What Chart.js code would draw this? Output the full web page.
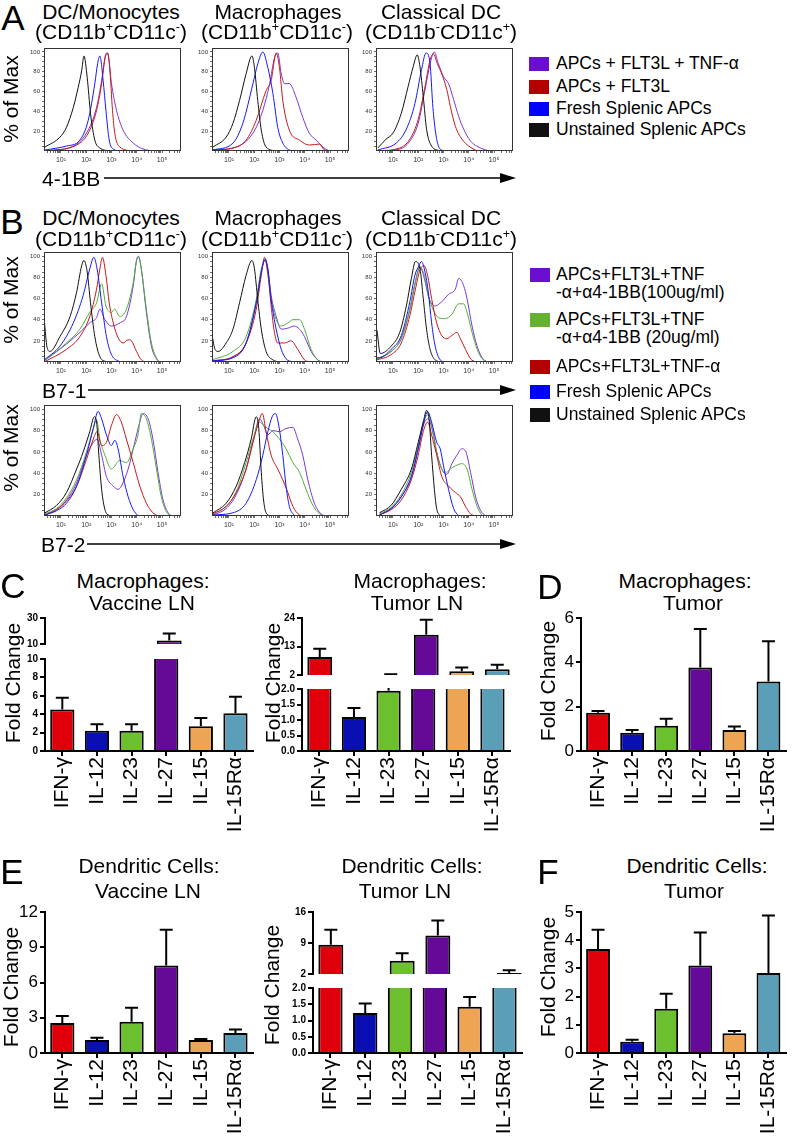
<!DOCTYPE html>
<html>
<head>
<meta charset="utf-8">
<script src="https://cdn.jsdelivr.net/npm/chart.js@4.4.1/dist/chart.umd.min.js"></script>
<style>
  body { margin: 0; background: #fff; }
  #fig { position: relative; width: 793px; height: 1139px; overflow: hidden; background: #fff;
         font-family: "Liberation Sans", Arial, sans-serif; color: #000; }
  #fig canvas { position: absolute; }
  .tx { position: absolute; white-space: nowrap; line-height: 1; }
  .tx sup { font-size: 0.6em; vertical-align: 0.6em; line-height: 0; }
  .sq { position: absolute; width: 20px; height: 14px; }
  svg { position: absolute; left: 0; top: 0; }
</style>
</head>
<body>
<div id="fig"></div>
<script>
const FONT = '"Liberation Sans", Arial, sans-serif';
Chart.defaults.font.family = FONT;

// ---- histogram data: [log10 intensity, % of max] ----
const decadeLabels = ['10⁰', '10¹', '10²', '10³', '10⁴', '10⁵'];

// A: 4-1BB
const a1Black = [[0.37,4],[0.96,14],[1.22,24],[1.49,44],[1.68,64],[1.82,81],[1.91,96],[2.04,74],[2.17,38],[2.34,11],[2.54,3],[2.93,0]];
const a1Blue = [[0.37,1],[1.22,5],[1.75,11],[2.08,31],[2.34,68],[2.45,88],[2.54,96],[2.67,71],[2.78,41],[2.91,11],[3.07,2],[3.33,0]];
const a1Red = [[0.37,0],[1.62,6],[2.08,18],[2.41,41],[2.61,68],[2.74,93],[2.83,99],[2.93,84],[3.04,41],[3.13,18],[3.33,4],[3.86,0]];
const a1Purple = [[0.37,0],[1.49,5],[2.01,18],[2.41,44],[2.61,71],[2.78,98],[2.85,99],[3.0,68],[3.2,41],[3.46,21],[3.86,8],[4.25,2],[4.64,0]];

const a2Black = [[0.37,4],[0.89,14],[1.16,28],[1.42,51],[1.68,78],[1.91,96],[2.01,84],[2.14,51],[2.28,21],[2.47,4],[2.87,0]];
const a2Blue = [[0.37,1],[1.16,8],[1.55,28],[1.95,68],[2.14,88],[2.34,100],[2.54,84],[2.74,58],[2.93,24],[3.13,8],[3.39,1],[3.6,0]];
const a2Red = [[0.37,1],[1.16,3],[1.68,11],[2.08,31],[2.47,61],[2.67,71],[2.87,99],[3.0,84],[3.13,51],[3.39,21],[3.79,11],[4.18,6],[4.58,7],[4.78,1],[5.0,0]];
const a2Purple = [[0.37,1],[1.16,3],[1.95,18],[2.34,41],[2.61,68],[2.8,94],[2.93,99],[3.07,78],[3.2,68],[3.39,68],[3.66,54],[3.92,34],[4.18,18],[4.45,11],[4.71,4],[4.97,0]];

const a3Black = [[0.4,3],[0.73,12],[1.0,18],[1.33,38],[1.6,65],[1.8,85],[1.96,97],[2.07,85],[2.2,55],[2.33,22],[2.53,5],[2.87,0]];
const a3Blue = [[0.4,1],[1.13,8],[1.53,22],[1.87,48],[2.13,82],[2.31,99],[2.47,88],[2.57,48],[2.67,22],[2.8,5],[3.0,0]];
const a3Red = [[0.4,0],[1.27,3],[1.67,12],[2.0,32],[2.27,65],[2.47,92],[2.6,98],[2.76,88],[2.93,78],[3.13,62],[3.27,45],[3.47,25],[3.73,12],[4.0,5],[4.33,0]];
const a3Purple = [[0.4,0],[1.27,2],[1.67,10],[2.0,28],[2.27,62],[2.47,88],[2.63,100],[2.8,88],[3.0,75],[3.2,68],[3.4,52],[3.6,35],[3.8,22],[4.07,10],[4.47,3],[4.8,0]];

// B: B7-1
const b1Black = [[0.34,40],[0.45,14],[0.57,10],[0.96,24],[1.36,43],[1.62,66],[1.82,91],[1.91,96],[2.04,85],[2.17,56],[2.34,24],[2.54,5],[2.8,0]];
const b1Blue = [[0.34,2],[0.96,15],[1.49,37],[1.88,63],[2.14,88],[2.3,99],[2.43,88],[2.61,56],[2.8,24],[3.0,7],[3.33,0]];
const b1Red = [[0.34,0],[1.22,12],[1.75,24],[2.14,43],[2.41,69],[2.54,88],[2.64,99],[2.78,82],[2.91,56],[3.07,37],[3.26,23],[3.46,18],[3.66,21],[3.79,20],[3.99,10],[4.18,2],[4.38,0]];
const b1Green = [[0.34,1],[1.22,18],[1.75,31],[2.14,47],[2.41,56],[2.61,74],[2.78,53],[3.0,47],[3.13,50],[3.33,43],[3.59,50],[3.86,75],[3.99,96],[4.07,99],[4.18,88],[4.38,50],[4.58,18],[4.78,4],[4.91,0]];
const b1Purple = [[0.34,1],[1.22,17],[1.75,28],[2.14,37],[2.41,42],[2.54,50],[2.74,40],[3.0,34],[3.33,37],[3.59,43],[3.86,72],[3.99,96],[4.07,100],[4.18,88],[4.38,47],[4.58,15],[4.78,3],[4.91,0]];

const b2Black = [[0.34,24],[0.45,12],[0.57,10],[0.89,18],[1.16,31],[1.42,56],[1.68,82],[1.91,96],[2.01,88],[2.14,59],[2.28,31],[2.47,10],[2.74,2],[3.0,0]];
const b2Blue = [[0.34,1],[1.16,4],[1.68,18],[2.08,56],[2.28,85],[2.43,97],[2.54,88],[2.67,59],[2.87,31],[3.07,12],[3.26,3],[3.53,0]];
const b2Red = [[0.34,1],[1.16,5],[1.68,18],[2.08,50],[2.28,82],[2.41,99],[2.54,85],[2.67,53],[2.8,28],[2.93,18],[3.2,18],[3.46,20],[3.72,12],[3.99,2],[4.18,0]];
const b2Green = [[0.34,2],[1.16,10],[1.68,24],[2.08,59],[2.28,88],[2.43,96],[2.54,82],[2.67,59],[2.87,40],[3.07,34],[3.33,37],[3.53,40],[3.79,40],[3.99,31],[4.25,12],[4.51,2],[4.71,0]];
const b2Purple = [[0.34,1],[1.16,5],[1.68,18],[2.08,56],[2.28,85],[2.43,97],[2.54,88],[2.67,63],[2.87,43],[3.07,31],[3.33,32],[3.59,34],[3.79,31],[3.99,24],[4.25,10],[4.51,2],[4.71,0]];

const b3Black = [[0.37,30],[0.5,8],[0.93,15],[1.27,28],[1.53,53],[1.73,79],[1.89,95],[2.07,88],[2.2,60],[2.33,31],[2.47,12],[2.67,2],[2.93,0]];
const b3Blue = [[0.37,4],[0.47,4],[0.93,12],[1.33,25],[1.67,57],[1.87,82],[2.03,91],[2.13,95],[2.27,85],[2.4,66],[2.53,37],[2.67,15],[2.87,2],[3.07,0]];
const b3Red = [[0.37,2],[0.93,7],[1.33,18],[1.67,44],[1.89,69],[2.07,87],[2.24,91],[2.37,82],[2.53,60],[2.73,37],[2.93,25],[3.13,22],[3.33,25],[3.53,28],[3.67,22],[3.87,12],[4.07,3],[4.27,0]];
const b3Green = [[0.37,3],[0.93,10],[1.33,22],[1.67,50],[1.89,76],[2.07,90],[2.24,82],[2.4,63],[2.6,49],[2.8,42],[3.07,41],[3.33,45],[3.6,55],[3.8,55],[3.93,47],[4.13,28],[4.33,12],[4.53,3],[4.73,0]];
const b3Purple = [[0.37,3],[0.93,10],[1.33,22],[1.67,50],[1.89,76],[2.07,90],[2.24,79],[2.43,60],[2.67,53],[2.93,57],[3.2,64],[3.47,69],[3.6,79],[3.8,72],[3.93,60],[4.13,34],[4.33,15],[4.53,4],[4.73,0]];

// B: B7-2
const b4Black = [[0.37,3],[0.83,10],[1.22,22],[1.62,44],[1.88,60],[2.14,79],[2.32,93],[2.41,88],[2.5,57],[2.61,25],[2.74,6],[2.93,0]];
const b4Blue = [[0.37,1],[0.83,5],[1.22,12],[1.62,28],[2.01,57],[2.28,82],[2.47,98],[2.61,91],[2.8,76],[3.0,66],[3.13,71],[3.26,63],[3.46,37],[3.66,18],[3.86,6],[4.05,0]];
const b4Red = [[0.37,1],[0.83,6],[1.22,14],[1.62,28],[2.01,53],[2.28,72],[2.43,79],[2.61,66],[2.8,69],[3.0,85],[3.2,95],[3.39,88],[3.59,72],[3.86,50],[4.12,28],[4.38,12],[4.64,3],[4.84,0]];
const b4Green = [[0.37,2],[0.83,7],[1.22,17],[1.62,34],[2.01,60],[2.28,82],[2.41,90],[2.54,72],[2.74,57],[3.0,44],[3.33,52],[3.59,50],[3.86,63],[4.05,76],[4.18,96],[4.38,91],[4.58,72],[4.78,44],[4.97,18],[5.17,4],[5.37,0]];
const b4Purple = [[0.37,1],[0.83,6],[1.22,15],[1.62,31],[2.01,57],[2.28,69],[2.43,72],[2.61,57],[2.8,37],[3.07,28],[3.26,25],[3.39,28],[3.66,44],[3.92,69],[4.12,88],[4.25,96],[4.45,91],[4.64,72],[4.84,41],[5.04,15],[5.24,3],[5.37,0]];

const b5Black = [[0.37,3],[0.89,12],[1.29,28],[1.62,50],[1.88,72],[2.08,93],[2.18,82],[2.28,41],[2.37,15],[2.47,3],[2.67,0]];
const b5Blue = [[0.37,1],[1.16,3],[1.68,12],[2.08,34],[2.34,57],[2.54,79],[2.71,93],[2.84,96],[2.97,85],[3.13,57],[3.26,28],[3.39,9],[3.59,0]];
const b5Red = [[0.37,2],[0.89,9],[1.29,22],[1.68,44],[1.95,69],[2.14,85],[2.32,96],[2.47,79],[2.67,57],[2.93,44],[3.13,34],[3.33,22],[3.53,9],[3.79,1],[3.99,0]];
const b5Green = [[0.37,2],[0.89,9],[1.29,23],[1.68,50],[1.95,72],[2.21,88],[2.37,85],[2.54,82],[2.74,79],[3.0,72],[3.26,63],[3.53,50],[3.79,41],[4.05,25],[4.32,10],[4.58,2],[4.78,0]];
const b5Purple = [[0.37,1],[0.89,7],[1.29,20],[1.68,44],[1.95,69],[2.21,91],[2.37,85],[2.54,76],[2.74,80],[3.0,79],[3.26,82],[3.53,83],[3.72,72],[3.92,57],[4.12,34],[4.38,12],[4.64,2],[4.84,0]];

const b6Black = [[0.47,3],[0.93,10],[1.33,25],[1.73,44],[2.0,69],[2.2,88],[2.33,99],[2.44,88],[2.53,57],[2.64,25],[2.73,7],[2.87,0]];
const b6Blue = [[0.47,1],[0.93,7],[1.33,18],[1.73,37],[2.0,63],[2.2,85],[2.37,98],[2.53,88],[2.73,69],[2.87,63],[3.0,47],[3.2,25],[3.4,7],[3.6,0]];
const b6Red = [[0.47,1],[0.93,6],[1.33,15],[1.73,34],[2.0,57],[2.2,79],[2.37,88],[2.53,76],[2.73,57],[2.93,37],[3.2,28],[3.47,22],[3.67,18],[3.87,9],[4.07,2],[4.27,0]];
const b6Green = [[0.47,2],[0.93,8],[1.33,20],[1.73,41],[2.0,66],[2.2,88],[2.4,95],[2.56,82],[2.73,60],[2.93,44],[3.13,41],[3.27,44],[3.47,47],[3.73,49],[3.93,44],[4.13,25],[4.33,9],[4.53,0]];
const b6Purple = [[0.47,1],[0.93,7],[1.33,18],[1.73,37],[2.0,63],[2.2,85],[2.4,91],[2.56,80],[2.73,60],[2.93,44],[3.13,39],[3.33,49],[3.53,57],[3.73,63],[3.89,60],[4.07,41],[4.27,18],[4.47,5],[4.67,0]];

// ---- bar data: fold change, mean and top of error bar ----
const cytokines = ['IFN-γ', 'IL-12', 'IL-23', 'IL-27', 'IL-15', 'IL-15Rα'];
const c1Vals = [4.5, 2.2, 2.2, 12.7, 2.7, 4.1];
const c1Errs = [5.8, 2.9, 2.9, 18, 3.6, 5.9];
const c2Vals = [8.9, 1.1, 1.94, 17.5, 3.4, 4.2];
const c2Errs = [12.1, 1.39, 2.3, 23.3, 4.9, 6.0];
const dVals = [1.72, 0.82, 1.14, 3.77, 0.95, 3.14];
const dErrs = [1.8, 0.95, 1.45, 5.5, 1.1, 4.95];
const e1Vals = [2.55, 1.1, 2.65, 7.45, 1.1, 1.7];
const e1Errs = [3.15, 1.3, 3.85, 10.5, 1.2, 2.0];
const e2Vals = [8.6, 1.23, 5.0, 10.7, 1.42, 2.2];
const e2Errs = [12.0, 1.52, 6.7, 14.1, 1.72, 2.85];
const fVals = [3.69, 0.4, 1.57, 3.1, 0.7, 2.84];
const fErrs = [4.37, 0.47, 2.1, 4.27, 0.78, 4.88];

// tick labels of the bar panels
const c1UpperTicks = [10, 30];
const c1LowerTicks = [0, 2, 4, 6, 8, 10];
const c2UpperTicks = [2, 13, 24];
const smallLowerTicks = [0, 0.5, 1, 1.5, 2];
const dTicks = [0, 2, 4, 6];
const e1Ticks = [0, 3, 6, 9, 12];
const e2UpperTicks = [2, 9, 16];
const fTicks = [0, 1, 2, 3, 4, 5];

const barColors = ['#e0000b', '#0a0fb4', '#6cbf2e', '#650a96', '#eea553', '#5b9eb8'];
const HC = { black: '#111111', blue: '#1616ff', red: '#c81818', green: '#4fae38', purple: '#7a35d8' };

const fig = document.getElementById('fig');

function addText(html, x, y, size, o = {}) {
  const d = document.createElement('div');
  d.className = 'tx';
  d.innerHTML = html;
  d.style.left = x + 'px';
  d.style.top = y + 'px';
  d.style.fontSize = size + 'px';
  let tf = o.left ? 'translate(0,-50%)' : 'translate(-50%,-50%)';
  if (o.rot) tf += ' rotate(-90deg)';
  d.style.transform = tf;
  fig.appendChild(d);
}

function addCanvas(x, y, w, h) {
  const c = document.createElement('canvas');
  c.width = w; c.height = h;
  c.style.left = x + 'px'; c.style.top = y + 'px';
  c.style.width = w + 'px'; c.style.height = h + 'px';
  fig.appendChild(c);
  return c;
}

const frame = {
  id: 'frame',
  afterDraw(chart) {
    const { ctx, chartArea: a } = chart;
    ctx.save();
    ctx.strokeStyle = '#333';
    ctx.lineWidth = 1;
    ctx.strokeRect(a.left + 0.5, a.top + 0.5, a.right - a.left - 1, a.bottom - a.top - 1);
    ctx.restore();
  }
};

function histogram(l, t, r, b, curves) {
  const yW = 24, xH = 20, padT = 8, padR = 4;
  const cv = addCanvas(l - yW, t - padT, r - l + yW + padR, b - t + padT + xH);
  new Chart(cv, {
    type: 'line',
    data: {
      datasets: curves.map(([pts, col]) => ({
        data: pts.map(p => ({ x: p[0], y: p[1] })),
        borderColor: HC[col], borderWidth: 1, pointRadius: 0,
        cubicInterpolationMode: 'monotone', fill: false
      }))
    },
    options: {
      responsive: false, animation: false, devicePixelRatio: 1,
      layout: { padding: { top: padT, right: padR, left: 0, bottom: 0 } },
      plugins: { legend: { display: false }, tooltip: { enabled: false } },
      scales: {
        x: {
          type: 'linear', min: 0.33, max: 5.75,
          afterFit: s => { s.height = xH; },
          afterBuildTicks: s => {
            const ticks = [];
            for (let n = 0; n <= 5; n++) for (let k = 1; k <= 9; k++) {
              const v = n + Math.log10(k);
              if (v >= s.min && v <= s.max) ticks.push({ value: v });
            }
            s.ticks = ticks;
          },
          ticks: {
            autoSkip: false, maxRotation: 0, padding: 3, color: '#333',
            font: { size: 7 },
            callback: v => Number.isInteger(v) ? decadeLabels[v] : ''
          },
          grid: { drawOnChartArea: false, tickLength: 2, color: '#444', lineWidth: 0.8 },
          border: { display: false }
        },
        y: {
          min: 0, max: 104,
          afterFit: s => { s.width = yW; },
          afterBuildTicks: s => {
            const ticks = [];
            for (let v = 5; v <= 100; v += 5) ticks.push({ value: v });
            s.ticks = ticks;
          },
          ticks: {
            autoSkip: false, padding: 2, color: '#333', font: { size: 6 },
            callback: v => v % 20 === 0 ? String(v) : ''
          },
          grid: { drawOnChartArea: false, tickLength: 2, color: '#444', lineWidth: 0.8 },
          border: { display: false }
        }
      }
    },
    plugins: [frame]
  });
}

function errorPlugin(vals, errs) {
  return {
    id: 'errorBars',
    afterDatasetsDraw(chart) {
      const { ctx, chartArea: a } = chart;
      const meta = chart.getDatasetMeta(0);
      const y = chart.scales.y;
      ctx.save();
      ctx.beginPath();
      ctx.rect(a.left, a.top - 1, a.right - a.left, a.bottom - a.top + 1);
      ctx.clip();
      ctx.strokeStyle = '#000';
      ctx.lineWidth = 2;
      errs.forEach((e, i) => {
        const x = meta.data[i].x;
        const y0 = y.getPixelForValue(vals[i]);
        const y1 = y.getPixelForValue(e);
        ctx.beginPath();
        ctx.moveTo(x, y0); ctx.lineTo(x, y1);
        ctx.moveTo(x - 6.5, y1); ctx.lineTo(x + 6.5, y1);
        ctx.stroke();
      });
      ctx.restore();
    }
  };
}

// one segment of a (possibly broken) bar axis
function barSegment(p, seg, withX) {
  const yW = 40, xH = 92, padT = 14, padR = 4, padB = withX ? 0 : 4;
  const cv = addCanvas(p.l - yW, seg.t - padT, p.r - p.l + yW + padR, seg.b - seg.t + padT + (withX ? xH : padB));
  new Chart(cv, {
    type: 'bar',
    data: {
      labels: cytokines,
      datasets: [{
        data: p.vals, backgroundColor: barColors, borderColor: '#000', borderWidth: 2,
        barPercentage: 0.7, categoryPercentage: 1, clip: 0
      }]
    },
    options: {
      responsive: false, animation: false, devicePixelRatio: 1,
      layout: { padding: { top: padT, right: padR, left: 0, bottom: padB } },
      plugins: { legend: { display: false }, tooltip: { enabled: false } },
      scales: {
        x: {
          display: withX,
          afterFit: s => { s.height = withX ? xH : 0; },
          grid: { drawOnChartArea: false, offset: false, tickLength: 5, color: '#000', lineWidth: 2 },
          border: { color: '#000', width: 2 },
          ticks: { minRotation: 90, maxRotation: 90, autoSkip: false, padding: 1, color: '#000',
                   font: { family: FONT, size: 21 } }
        },
        y: {
          min: seg.min, max: seg.max,
          afterFit: s => { s.width = yW; },
          afterBuildTicks: s => { s.ticks = seg.ticks.map(v => ({ value: v })); },
          grid: { drawOnChartArea: false, tickLength: 5, color: '#000', lineWidth: 2 },
          border: { color: '#000', width: 2 },
          ticks: { autoSkip: false, padding: 2, color: '#000', font: p.font,
                   callback: v => seg.dec ? v.toFixed(1) : String(v) }
        }
      }
    },
    plugins: [errorPlugin(p.vals, p.errs)]
  });
}

function barPanel(p) {
  p.segs.forEach((seg, i) => barSegment(p, seg, i === p.segs.length - 1));
}

// ---------- panel A / B histograms ----------
const cols = [[44, 181], [212, 349], [376, 513]];
const rowA = [48, 151], rowB1 = [252, 362], rowB2 = [405, 516];

histogram(cols[0][0], rowA[0], cols[0][1], rowA[1], [[a1Black,'black'],[a1Blue,'blue'],[a1Red,'red'],[a1Purple,'purple']]);
histogram(cols[1][0], rowA[0], cols[1][1], rowA[1], [[a2Black,'black'],[a2Blue,'blue'],[a2Red,'red'],[a2Purple,'purple']]);
histogram(cols[2][0], rowA[0], cols[2][1], rowA[1], [[a3Black,'black'],[a3Blue,'blue'],[a3Red,'red'],[a3Purple,'purple']]);

histogram(cols[0][0], rowB1[0], cols[0][1], rowB1[1], [[b1Black,'black'],[b1Blue,'blue'],[b1Red,'red'],[b1Green,'green'],[b1Purple,'purple']]);
histogram(cols[1][0], rowB1[0], cols[1][1], rowB1[1], [[b2Black,'black'],[b2Blue,'blue'],[b2Red,'red'],[b2Green,'green'],[b2Purple,'purple']]);
histogram(cols[2][0], rowB1[0], cols[2][1], rowB1[1], [[b3Black,'black'],[b3Blue,'blue'],[b3Red,'red'],[b3Green,'green'],[b3Purple,'purple']]);

histogram(cols[0][0], rowB2[0], cols[0][1], rowB2[1], [[b4Black,'black'],[b4Blue,'blue'],[b4Red,'red'],[b4Green,'green'],[b4Purple,'purple']]);
histogram(cols[1][0], rowB2[0], cols[1][1], rowB2[1], [[b5Black,'black'],[b5Blue,'blue'],[b5Red,'red'],[b5Green,'green'],[b5Purple,'purple']]);
histogram(cols[2][0], rowB2[0], cols[2][1], rowB2[1], [[b6Black,'black'],[b6Blue,'blue'],[b6Red,'red'],[b6Green,'green'],[b6Purple,'purple']]);

// ---------- bar panels ----------
const boldSmall = { family: FONT, size: 10, weight: 'bold' };
const plain = { family: FONT, size: 17 };

barPanel({ l: 45, r: 258, vals: c1Vals, errs: c1Errs, font: boldSmall, segs: [
  { t: 618, b: 648, min: 10, max: 30, ticks: c1UpperTicks },
  { t: 659, b: 751, min: 0, max: 10, ticks: c1LowerTicks } ] });
barPanel({ l: 302, r: 515, vals: c2Vals, errs: c2Errs, font: boldSmall, segs: [
  { t: 618, b: 679, min: 2, max: 24, ticks: c2UpperTicks },
  { t: 689, b: 751, min: 0, max: 2, ticks: smallLowerTicks, dec: true } ] });
barPanel({ l: 581, r: 791, vals: dVals, errs: dErrs, font: plain, segs: [
  { t: 618, b: 751, min: 0, max: 6, ticks: dTicks } ] });
barPanel({ l: 45, r: 258, vals: e1Vals, errs: e1Errs, font: plain, segs: [
  { t: 912, b: 1053, min: 0, max: 12, ticks: e1Ticks } ] });
barPanel({ l: 313, r: 527, vals: e2Vals, errs: e2Errs, font: boldSmall, segs: [
  { t: 912, b: 978, min: 2, max: 16, ticks: e2UpperTicks },
  { t: 988, b: 1053, min: 0, max: 2, ticks: smallLowerTicks, dec: true } ] });
barPanel({ l: 581, r: 791, vals: fVals, errs: fErrs, font: plain, segs: [
  { t: 912, b: 1053, min: 0, max: 5, ticks: fTicks } ] });

// ---------- texts ----------
const pos = '<sup>+</sup>', neg = '<sup>-</sup>';
[['A', 13, 17], ['B', 12, 221], ['C', 13, 585], ['D', 550, 586], ['E', 12, 871], ['F', 548, 871]]
  .forEach(([s, x, y]) => addText(s, x, y, 35));

[[11, 31], [217, 238]].forEach(([y1, y2]) => {
  addText('DC/Monocytes', 111, y1, 21);
  addText('(CD11b' + pos + 'CD11c' + neg + ')', 111, y2, 21);
  addText('Macrophages', 278, y1, 21);
  addText('(CD11b' + pos + 'CD11c' + neg + ')', 277, y2, 21);
  addText('Classical DC', 441, y1, 21);
  addText('(CD11b' + neg + 'CD11c' + pos + ')', 441, y2, 21);
});

[99, 300, 448].forEach(y => addText('% of Max', 10, y, 21, { rot: true }));
addText('4-1BB', 42, 178, 21, { left: true });
addText('B7-1', 42, 390, 21, { left: true });
addText('B7-2', 41, 544, 21, { left: true });

// legends
function square(x, y, col) {
  const d = document.createElement('div');
  d.className = 'sq';
  d.style.left = x + 'px';
  d.style.top = (y - 7) + 'px';
  d.style.background = col;
  fig.appendChild(d);
}
[['#6a0fd0', 'APCs + FLT3L + TNF-α', 64], ['#b50000', 'APCs + FLT3L', 87],
 ['#0000ff', 'Fresh Splenic APCs', 109], ['#111', 'Unstained Splenic APCs', 130]]
  .forEach(([c, s, y]) => { square(529, y, c); addText(s, 556, y, 17.5, { left: true }); });

square(530, 275, '#6a0fd0');
addText('APCs+FLT3L+TNF', 556, 275, 17.5, { left: true });
addText('-α+α4-1BB(100ug/ml)', 556, 293, 17.5, { left: true });
square(530, 320, '#66b032');
addText('APCs+FLT3L+TNF', 556, 320, 17.5, { left: true });
addText('-α+α4-1BB (20ug/ml)', 556, 338, 17.5, { left: true });
square(530, 367, '#b50000');
addText('APCs+FLT3L+TNF-α', 556, 367, 17.5, { left: true });
square(530, 392, '#0000ff');
addText('Fresh Splenic APCs', 556, 392, 17.5, { left: true });
square(530, 415, '#111');
addText('Unstained Splenic APCs', 556, 415, 17.5, { left: true });

// bar titles
addText('Macrophages:', 143, 580, 21); addText('Vaccine LN', 142, 602, 21);
addText('Macrophages:', 420, 580, 21); addText('Tumor LN', 417, 602, 21);
addText('Macrophages:', 685, 580, 21); addText('Tumor', 693, 602, 21);
addText('Dendritic Cells:', 149, 865, 21); addText('Vaccine LN', 148, 890, 21);
addText('Dendritic Cells:', 412, 865, 21); addText('Tumor LN', 405, 890, 21);
addText('Dendritic Cells:', 697, 865, 21); addText('Tumor', 694, 890, 21);

[[12, 683], [272, 683], [547, 681], [10, 987], [271, 985], [547, 977]]
  .forEach(([x, y]) => addText('Fold Change', x, y, 21, { rot: true }));

// arrows under histogram rows
const svgNS = 'http://www.w3.org/2000/svg';
const svg = document.createElementNS(svgNS, 'svg');
svg.setAttribute('width', 793); svg.setAttribute('height', 1139);
[[104, 178], [88, 390], [87, 544]].forEach(([x0, y]) => {
  const ln = document.createElementNS(svgNS, 'line');
  ln.setAttribute('x1', x0); ln.setAttribute('x2', 503);
  ln.setAttribute('y1', y); ln.setAttribute('y2', y);
  ln.setAttribute('stroke', '#000'); ln.setAttribute('stroke-width', 1.5);
  svg.appendChild(ln);
  const hd = document.createElementNS(svgNS, 'polygon');
  hd.setAttribute('points', `500,${y - 5} 516,${y} 500,${y + 5}`);
  hd.setAttribute('fill', '#000');
  svg.appendChild(hd);
});
fig.appendChild(svg);
</script>
</body>
</html>
